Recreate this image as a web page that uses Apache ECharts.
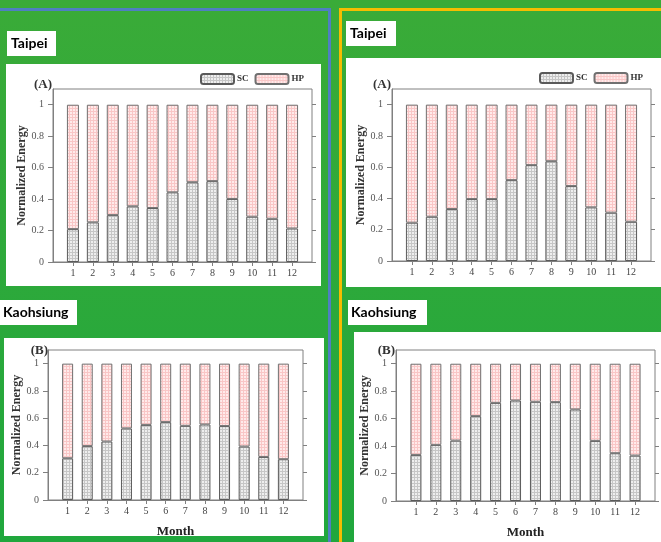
<!DOCTYPE html>
<html><head><meta charset="utf-8">
<script src="https://cdn.jsdelivr.net/npm/echarts@6/dist/echarts.min.js"></script>
<style>html,body{margin:0;padding:0;}#c{width:661px;height:542px;}</style>
</head><body><div id="c"></div>
<script>
const months = [1,2,3,4,5,6,7,8,9,10,11,12];
const yTicks = [0,0.2,0.4,0.6,0.8,1];
const leftTaipeiSC = [0.209,0.252,0.298,0.354,0.343,0.443,0.507,0.514,0.401,0.288,0.275,0.213];
const leftTaipeiHP = [0.791,0.748,0.702,0.646,0.657,0.557,0.493,0.486,0.599,0.712,0.725,0.787];
const leftKaohsiungSC = [0.306,0.395,0.429,0.525,0.551,0.571,0.544,0.554,0.542,0.392,0.316,0.299];
const leftKaohsiungHP = [0.694,0.605,0.571,0.475,0.449,0.429,0.456,0.446,0.458,0.608,0.684,0.701];
const rightTaipeiSC = [0.245,0.283,0.332,0.396,0.396,0.517,0.613,0.638,0.479,0.343,0.309,0.251];
const rightTaipeiHP = [0.755,0.717,0.668,0.604,0.604,0.483,0.387,0.362,0.521,0.657,0.691,0.749];
const rightKaohsiungSC = [0.336,0.409,0.440,0.618,0.715,0.732,0.723,0.720,0.667,0.438,0.348,0.331];
const rightKaohsiungHP = [0.664,0.591,0.560,0.382,0.285,0.268,0.277,0.280,0.333,0.562,0.652,0.669];
// axis slots: an empty slot before month 1 and after month 12
const axisSlots = ['start'].concat(months.map(String), ['end']);

function makePattern(base, line) {
  const cv = document.createElement('canvas');
  cv.width = 3; cv.height = 3;
  const ctx = cv.getContext('2d');
  ctx.fillStyle = base; ctx.fillRect(0,0,3,3);
  ctx.fillStyle = line; ctx.fillRect(0,0,3,1); ctx.fillRect(0,0,1,3);
  return {image: cv, repeat: 'repeat'};
}
const scFill = makePattern('#eeeeee', '#c6c6c6');
const hpFill = makePattern('#ffeaea', '#f9c6c6');

const serif = 'Liberation Serif';
const grids = [
  {left: 53, top: 89, width: 259, height: 173},
  {left: 48, top: 350, width: 255, height: 150},
  {left: 392, top: 89, width: 259, height: 172},
  {left: 396, top: 350, width: 259, height: 151}
];
const panelData = [
  [leftTaipeiSC, leftTaipeiHP],
  [leftKaohsiungSC, leftKaohsiungHP],
  [rightTaipeiSC, rightTaipeiHP],
  [rightKaohsiungSC, rightKaohsiungHP]
];
const showMonth = [false, true, false, true];
const barW = [12, 11, 12, 11];
const isMonthSlot = (idx) => idx > 0 && idx < axisSlots.length - 1;

const option = {
  animation: false,
  grid: grids.map(g => Object.assign({show: true, borderColor: '#808080', borderWidth: 1, backgroundColor: 'transparent'}, g)),
  xAxis: grids.map((g, i) => ({
    type: 'category', gridIndex: i, data: axisSlots, boundaryGap: false,
    splitLine: {show: false},
    axisLine: {show: true, onZero: false, lineStyle: {color: '#808080'}},
    axisTick: {show: true, interval: (idx) => isMonthSlot(idx), length: 4, lineStyle: {color: '#808080'}},
    axisLabel: {interval: (idx) => isMonthSlot(idx), margin: 6, fontFamily: serif, fontSize: 10, color: '#444'},
    name: showMonth[i] ? 'Month' : '', nameLocation: 'middle', nameGap: 25,
    nameTextStyle: {fontFamily: serif, fontWeight: 'bold', fontSize: 13, color: '#222'}
  })),
  yAxis: [].concat(...grids.map((g, i) => ([
    {
      type: 'value', gridIndex: i, min: 0, max: 1.1, interval: 0.2, position: 'left',
      splitLine: {show: false},
      axisLine: {show: true, lineStyle: {color: '#808080'}},
      axisTick: {show: true, customValues: yTicks, length: 5, lineStyle: {color: '#808080'}},
      axisLabel: {customValues: yTicks, margin: 9, fontFamily: serif, fontSize: 10, color: '#555'},
      name: 'Normalized Energy', nameLocation: 'middle', nameRotate: 90, nameGap: 24,
      nameTextStyle: {fontFamily: serif, fontWeight: 'bold', fontSize: 12, color: '#333'}
    },
    {
      type: 'value', gridIndex: i, min: 0, max: 1.1, interval: 0.2, position: 'right',
      splitLine: {show: false},
      axisLine: {show: false},
      axisTick: {show: true, customValues: yTicks, length: 4, lineStyle: {color: '#808080'}},
      axisLabel: {show: false}
    }
  ]))),
  legend: [
    {left: 200, top: 73, itemWidth: 33, itemHeight: 10, itemGap: 6, data: ['SC', 'HP'],
     textStyle: {fontFamily: serif, fontWeight: 'bold', fontSize: 9, color: '#333', padding: [0,0,0,-2]}, padding: 0},
    {left: 539, top: 72, itemWidth: 33, itemHeight: 10, itemGap: 6, data: ['SC', 'HP'],
     textStyle: {fontFamily: serif, fontWeight: 'bold', fontSize: 9, color: '#333', padding: [0,0,0,-2]}, padding: 0}
  ],
  series: [].concat(...panelData.map((pd, i) => ([
    {name: 'SC', type: 'bar', stack: 's' + i, xAxisIndex: i, yAxisIndex: i * 2, barWidth: barW[i],
     itemStyle: {color: scFill, borderColor: '#5a5a5a', borderWidth: 1},
     data: months.map((m, k) => [String(m), pd[0][k]])},
    {name: 'HP', type: 'bar', stack: 's' + i, xAxisIndex: i, yAxisIndex: i * 2, barWidth: barW[i],
     itemStyle: {color: hpFill, borderColor: '#707070', borderWidth: 1},
     data: months.map((m, k) => [String(m), pd[1][k]])}
  ]))),
  graphic: [
    {type: 'rect', z: -100, shape: {x: 0, y: 0, width: 661, height: 542},
     style: {fill: new echarts.graphic.LinearGradient(0, 0, 0, 1, [{offset: 0, color: '#3aab38'}, {offset: 1, color: '#20a73d'}])}},
    {type: 'rect', z: -90, shape: {x: 6, y: 64, width: 315, height: 222}, style: {fill: '#fff'}},
    {type: 'rect', z: -90, shape: {x: 4, y: 338, width: 320, height: 198}, style: {fill: '#fff'}},
    {type: 'rect', z: -90, shape: {x: 346, y: 58, width: 315, height: 229}, style: {fill: '#fff'}},
    {type: 'rect', z: -90, shape: {x: 354, y: 332, width: 307, height: 210}, style: {fill: '#fff'}},
    {type: 'polyline', z: -80, shape: {points: [[0, 9.5], [329.5, 9.5], [329.5, 542]]}, style: {stroke: '#4f7fc2', lineWidth: 3, fill: null}},
    {type: 'polyline', z: -80, shape: {points: [[340.5, 542], [340.5, 9.5], [661, 9.5]]}, style: {stroke: '#f6bd00', lineWidth: 3, fill: null}},
    {type: 'rect', z: -85, shape: {x: 7, y: 31, width: 49, height: 25}, style: {fill: '#fff'}},
    {type: 'rect', z: -85, shape: {x: 0, y: 300, width: 77, height: 25}, style: {fill: '#fff'}},
    {type: 'rect', z: -85, shape: {x: 346, y: 21, width: 50, height: 25}, style: {fill: '#fff'}},
    {type: 'rect', z: -85, shape: {x: 348, y: 300, width: 79, height: 25}, style: {fill: '#fff'}},
    {type: 'text', z: 10, x: 11, y: 43.5, style: {text: 'Taipei', font: 'bold 14px Lato', fill: '#000', textVerticalAlign: 'middle'}},
    {type: 'text', z: 10, x: 3, y: 312.5, style: {text: 'Kaohsiung', font: 'bold 14px Lato', fill: '#000', textVerticalAlign: 'middle'}},
    {type: 'text', z: 10, x: 350, y: 33.5, style: {text: 'Taipei', font: 'bold 14px Lato', fill: '#000', textVerticalAlign: 'middle'}},
    {type: 'text', z: 10, x: 351, y: 312.5, style: {text: 'Kaohsiung', font: 'bold 14px Lato', fill: '#000', textVerticalAlign: 'middle'}},
    {type: 'text', z: 10, x: 52, y: 91, style: {text: '(A)', font: 'bold 13px "Liberation Serif"', fill: '#333', textAlign: 'right', textVerticalAlign: 'bottom'}},
    {type: 'text', z: 10, x: 391, y: 91, style: {text: '(A)', font: 'bold 13px "Liberation Serif"', fill: '#333', textAlign: 'right', textVerticalAlign: 'bottom'}},
    {type: 'text', z: 10, x: 48, y: 357, style: {text: '(B)', font: 'bold 13px "Liberation Serif"', fill: '#333', textAlign: 'right', textVerticalAlign: 'bottom'}},
    {type: 'text', z: 10, x: 395, y: 357, style: {text: '(B)', font: 'bold 13px "Liberation Serif"', fill: '#333', textAlign: 'right', textVerticalAlign: 'bottom'}}
  ]
};
const chart = echarts.init(document.getElementById('c'), null, {renderer: 'canvas'});
chart.setOption(option);
</script>
</body></html>
